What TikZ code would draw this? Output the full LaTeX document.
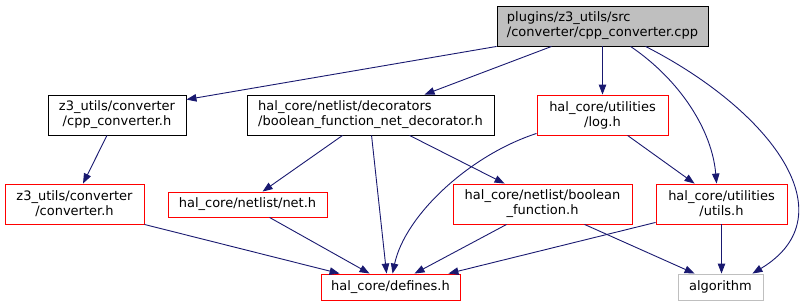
\documentclass[tikz,border=0pt]{standalone}
\usepackage{fontspec}
\setmainfont{DejaVu Sans}
\usetikzlibrary{arrows.meta,calc}
\definecolor{edgeblue}{HTML}{191970}
\definecolor{boxred}{HTML}{FF0000}
\definecolor{boxgray}{HTML}{BFBFBF}
\begin{document}
\begin{tikzpicture}[x=1pt,y=-1pt,
  box/.style={draw,line width=0.9pt,inner sep=0pt,align=center,
    font=\fontsize{13}{15}\selectfont},
  redbox/.style={box,draw=boxred},
  edge/.style={draw=edgeblue,line width=0.9pt,
    -{Triangle[length=10pt,width=7.5pt]}}]
\useasboundingbox (0,0) rectangle (810,305);

\node[box,fill=boxgray,align=left,minimum width=211pt,minimum height=40pt] (cpp) at (602.5,26)
  {plugins/z3\_utils/src\\/converter/cpp\_converter.cpp};
\node[box,minimum width=138pt,minimum height=40pt] (cppconv) at (117,115)
  {z3\_utils/converter\\/cpp\_converter.h};
\node[box,align=left,minimum width=247pt,minimum height=40pt] (deco) at (370.5,115)
  {hal\_core/netlist/decorators\\/boolean\_function\_net\_decorator.h};
\node[redbox,minimum width=131pt,minimum height=40pt] (log) at (602.5,115)
  {hal\_core/utilities\\/log.h};
\node[redbox,minimum width=139pt,minimum height=40pt] (conv) at (74.5,204)
  {z3\_utils/converter\\/converter.h};
\node[redbox,minimum width=159pt,minimum height=25pt] (net) at (247.5,204.5)
  {hal\_core/netlist/net.h};
\node[redbox,minimum width=179pt,minimum height=40pt] (bf) at (542.5,204)
  {hal\_core/netlist/boolean\\\_function.h};
\node[redbox,minimum width=131pt,minimum height=40pt] (utils) at (721.5,204)
  {hal\_core/utilities\\/utils.h};
\node[redbox,minimum width=139pt,minimum height=26pt] (defines) at (390.5,287)
  {hal\_core/defines.h};
\node[box,draw=boxgray,minimum width=85pt,minimum height=26pt] (algo) at (720.5,287)
  {algorithm};

% edges from cpp
\draw[edge] (cpp.south west) -- ($(cppconv.north east)+(0,5)$);
\draw[edge] ($(cpp.south west)+(55,0)$) -- ($(deco.north west)+(178,0)$);
\draw[edge] (cpp.south) -- (log.north);
\draw[edge] ($(cpp.south west)+(134,0)$) .. controls (680,80) and (712,130) .. ($(utils.north west)+(61,0)$);
\draw[edge] ($(cpp.south west)+(149,0)$) .. controls (770,110) and (850,215) .. ($(algo.north east)+(-11,0)$);

% second level
\draw[edge] ($(cppconv.south)+(-10,0)$) -- ($(conv.north)+(8.5,0)$);
\draw[edge] ($(deco.south west)+(96,0)$) -- ($(net.north west)+(95,0)$);
\draw[edge] ($(deco.south west)+(125,0)$) -- ($(defines.north west)+(66,0)$);
\draw[edge] ($(deco.south west)+(163,0)$) -- ($(bf.north west)+(52,0)$);
\draw[edge] ($(log.south west)+(0,-2)$) .. controls (470,155) and (405,215) .. ($(defines.north west)+(72,0)$);
\draw[edge] ($(log.south west)+(91,0)$) -- ($(utils.north west)+(39,0)$);

% third level
\draw[edge] (conv.south east) -- ($(defines.north west)+(19,0)$);
\draw[edge] ($(net.south west)+(102,0)$) -- ($(defines.north west)+(49,0)$);
\draw[edge] ($(bf.south west)+(54,0)$) -- ($(defines.north west)+(94,0)$);
\draw[edge] ($(bf.south west)+(132,0)$) -- ($(algo.north west)+(17,0)$);
\draw[edge] ($(utils.south west)+(0,-2)$) -- ($(defines.north east)+(-12,0)$);
\draw[edge] (utils.south) -- ($(algo.north)+(1,0)$);
\end{tikzpicture}
\end{document}
